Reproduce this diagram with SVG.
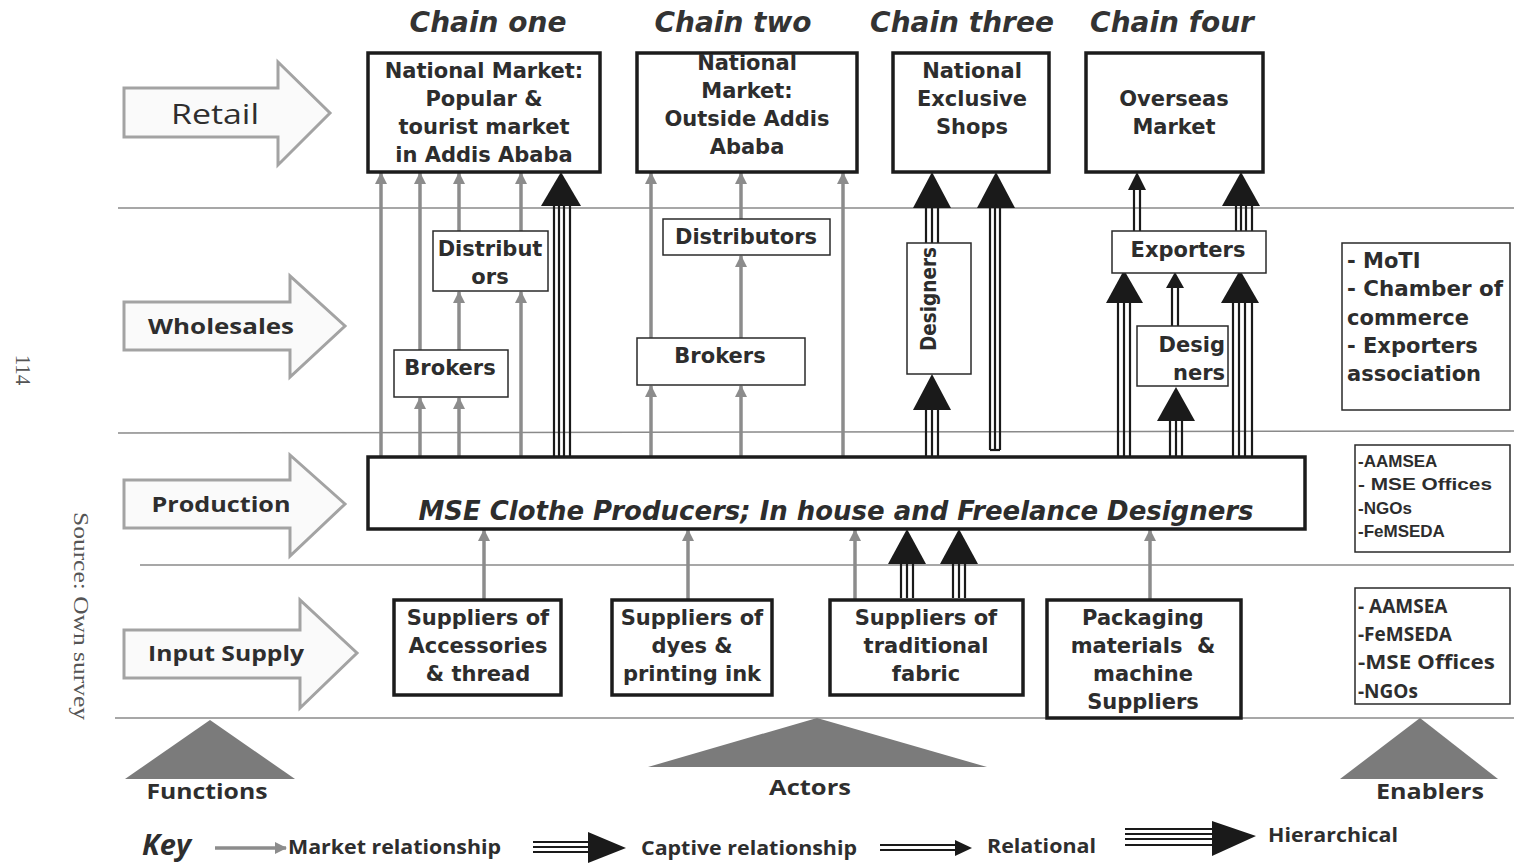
<svg xmlns="http://www.w3.org/2000/svg" width="1514" height="863" viewBox="0 0 1514 863">
<style>
.bg{fill:#ffffff}
.hl{stroke:#8a8a8a;stroke-width:1.5;fill:none}
.fa{fill:#fafafa;stroke:#a3a3a3;stroke-width:3}
.fl{font-family:"Open Sans","Liberation Sans",sans-serif;fill:#2e2e2e;text-anchor:middle;dominant-baseline:central}
.hd{font-family:"DejaVu Sans",sans-serif;font-weight:bold;font-style:italic;font-size:28px;fill:#333;text-anchor:middle;dominant-baseline:central}
.tb{fill:#fff;stroke:#1c1c1c;stroke-width:3.5}
.nb{fill:#fff;stroke:#2a2a2a;stroke-width:1.5}
.t{font-family:"DejaVu Sans",sans-serif;font-weight:bold;font-size:21px;fill:#2d2d2d;text-anchor:middle;dominant-baseline:central}
.tl{font-family:"DejaVu Sans",sans-serif;font-weight:bold;fill:#2d2d2d;dominant-baseline:central}
.ma{stroke:#8c8c8c;stroke-width:3.5;fill:none;marker-end:url(#gh)}
.cl{stroke:#1a1a1a;stroke-width:2.2;fill:none}
.ch{fill:#1a1a1a}
.tri{fill:#7b7b7b}
.src{font-family:"Liberation Serif",serif;font-size:21px;fill:#555}
.key{font-family:"Open Sans","Liberation Sans",sans-serif;font-weight:bold;fill:#2e2e2e;dominant-baseline:central}
</style>
<defs>
<marker id="gh" markerUnits="userSpaceOnUse" markerWidth="12" markerHeight="12" refX="11" refY="6" orient="auto">
<path d="M0,0 L12,6 L0,12 Z" fill="#8c8c8c"/>
</marker>
</defs>
<rect class="bg" x="0" y="0" width="1514" height="863"/>

<g id="page-notes">
<text class="src" transform="translate(16,370) rotate(90)" text-anchor="middle">114</text>
<text class="src" transform="translate(74,616) rotate(90)" text-anchor="middle" textLength="208" lengthAdjust="spacingAndGlyphs">Source: Own survey</text>
</g>

<g id="rows">
<line class="hl" x1="118" y1="208" x2="1514" y2="208"/>
<line class="hl" x1="118" y1="433" x2="1514" y2="431"/>
<line class="hl" x1="140" y1="565" x2="1514" y2="565"/>
<line class="hl" x1="115" y1="718" x2="1514" y2="718"/>
</g>

<g id="chain-headers">
<text class="hd" x="488" y="22">Chain one</text>
<text class="hd" x="733" y="22">Chain two</text>
<text class="hd" x="962" y="22">Chain three</text>
<text class="hd" x="1172" y="22">Chain four</text>
</g>

<g id="fn-retail">
<path class="fa" d="M124,88 H278 V62 L330,113 L278,165 V137 H124 Z"/>
<text class="fl" x="215" y="113" style="font-size:27px" textLength="88" lengthAdjust="spacingAndGlyphs">Retail</text>
</g>
<g id="fn-wholesales">
<path class="fa" d="M124,302 H290 V276 L345,326 L290,377 V350 H124 Z"/>
<text class="fl" x="221" y="326" style="font-size:21px;font-weight:bold" textLength="146" lengthAdjust="spacingAndGlyphs">Wholesales</text>
</g>
<g id="fn-production">
<path class="fa" d="M124,480 H290 V455 L345,504 L290,556 V528 H124 Z"/>
<text class="fl" x="221" y="504" style="font-size:21px;font-weight:bold" textLength="139" lengthAdjust="spacingAndGlyphs">Production</text>
</g>
<g id="fn-input">
<path class="fa" d="M124,630 H300 V600 L357,653 L300,708 V678 H124 Z"/>
<text class="fl" x="226" y="653" style="font-size:21px;font-weight:bold" textLength="156" lengthAdjust="spacingAndGlyphs">Input Supply</text>
</g>

<g id="connectors">
<line class="ma" x1="381" y1="457" x2="381" y2="173"/>
<line class="ma" x1="420" y1="457" x2="420" y2="398"/>
<line class="ma" x1="420" y1="350" x2="420" y2="173"/>
<line class="ma" x1="459" y1="457" x2="459" y2="398"/>
<line class="ma" x1="459" y1="350" x2="459" y2="292"/>
<line class="ma" x1="459" y1="231" x2="459" y2="173"/>
<line class="ma" x1="521" y1="457" x2="521" y2="292"/>
<line class="ma" x1="521" y1="231" x2="521" y2="173"/>
<line class="ma" x1="651" y1="457" x2="651" y2="386"/>
<line class="ma" x1="651" y1="338" x2="651" y2="173"/>
<line class="ma" x1="741" y1="457" x2="741" y2="386"/>
<line class="ma" x1="741" y1="338" x2="741" y2="256"/>
<line class="ma" x1="741" y1="219" x2="741" y2="173"/>
<line class="ma" x1="843" y1="457" x2="843" y2="173"/>
<line class="ma" x1="484" y1="600" x2="484" y2="530"/>
<line class="ma" x1="688" y1="600" x2="688" y2="530"/>
<line class="ma" x1="855" y1="600" x2="855" y2="530"/>
<line class="ma" x1="1150" y1="600" x2="1150" y2="530"/>

<g>
<line class="cl" x1="554" y1="457" x2="554" y2="200"/>
<line class="cl" x1="559" y1="457" x2="559" y2="200"/>
<line class="cl" x1="564" y1="457" x2="564" y2="200"/>
<line class="cl" x1="570" y1="457" x2="570" y2="200"/>
<polygon class="ch" points="561,172 541,206 581,206"/>
</g>
<g>
<line class="cl" x1="926" y1="457" x2="926" y2="400"/>
<line class="cl" x1="932" y1="457" x2="932" y2="400"/>
<line class="cl" x1="938" y1="457" x2="938" y2="400"/>
<polygon class="ch" points="932,374 913,410 951,410"/>
</g>
<g>
<line class="cl" x1="926" y1="243" x2="926" y2="200"/>
<line class="cl" x1="932" y1="243" x2="932" y2="200"/>
<line class="cl" x1="938" y1="243" x2="938" y2="200"/>
<polygon class="ch" points="932,172 913,208 951,208"/>
</g>
<g>
<line class="cl" x1="990" y1="450" x2="990" y2="200"/>
<line class="cl" x1="995" y1="450" x2="995" y2="200"/>
<line class="cl" x1="1000" y1="450" x2="1000" y2="200"/>
<line class="cl" x1="990" y1="450" x2="1000" y2="450"/>
<polygon class="ch" points="996,172 977,208 1015,208"/>
</g>
<g>
<line class="cl" x1="1134" y1="231" x2="1134" y2="185"/>
<line class="cl" x1="1140" y1="231" x2="1140" y2="185"/>
<polygon class="ch" points="1137,172 1128,190 1146,190"/>
</g>
<g>
<line class="cl" x1="1236" y1="231" x2="1236" y2="200"/>
<line class="cl" x1="1241" y1="231" x2="1241" y2="200"/>
<line class="cl" x1="1246" y1="231" x2="1246" y2="200"/>
<line class="cl" x1="1252" y1="231" x2="1252" y2="200"/>
<polygon class="ch" points="1241,172 1222,206 1260,206"/>
</g>
<g>
<line class="cl" x1="1118" y1="457" x2="1118" y2="298"/>
<line class="cl" x1="1124" y1="457" x2="1124" y2="298"/>
<line class="cl" x1="1130" y1="457" x2="1130" y2="298"/>
<polygon class="ch" points="1124,270 1106,303 1143,303"/>
</g>
<g>
<line class="cl" x1="1172" y1="326" x2="1172" y2="284"/>
<line class="cl" x1="1178" y1="326" x2="1178" y2="284"/>
<polygon class="ch" points="1175,272 1166,288 1184,288"/>
</g>
<g>
<line class="cl" x1="1170" y1="457" x2="1170" y2="415"/>
<line class="cl" x1="1176" y1="457" x2="1176" y2="415"/>
<line class="cl" x1="1182" y1="457" x2="1182" y2="415"/>
<polygon class="ch" points="1176,387 1157,421 1195,421"/>
</g>
<g>
<line class="cl" x1="1233" y1="457" x2="1233" y2="298"/>
<line class="cl" x1="1239" y1="457" x2="1239" y2="298"/>
<line class="cl" x1="1245" y1="457" x2="1245" y2="298"/>
<line class="cl" x1="1252" y1="457" x2="1252" y2="298"/>
<polygon class="ch" points="1240,270 1221,303 1259,303"/>
</g>
<g>
<line class="cl" x1="901" y1="598" x2="901" y2="555"/>
<line class="cl" x1="907" y1="598" x2="907" y2="555"/>
<line class="cl" x1="913" y1="598" x2="913" y2="555"/>
<polygon class="ch" points="907,529 888,564 926,564"/>
</g>
<g>
<line class="cl" x1="953" y1="598" x2="953" y2="555"/>
<line class="cl" x1="959" y1="598" x2="959" y2="555"/>
<line class="cl" x1="965" y1="598" x2="965" y2="555"/>
<polygon class="ch" points="959,529 940,564 978,564"/>
</g>
</g>

<g id="retail-popular">
<rect class="tb" x="368" y="53" width="232" height="119"/>
<text class="t" x="484" y="71">National Market:</text>
<text class="t" x="484" y="99">Popular &amp;</text>
<text class="t" x="484" y="127">tourist market</text>
<text class="t" x="484" y="155">in Addis Ababa</text>
</g>
<g id="retail-outside">
<rect class="tb" x="637" y="53" width="220" height="119"/>
<text class="t" x="747" y="63">National</text>
<text class="t" x="747" y="91">Market:</text>
<text class="t" x="747" y="119">Outside Addis</text>
<text class="t" x="747" y="147">Ababa</text>
</g>
<g id="retail-exclusive">
<rect class="tb" x="893" y="53" width="156" height="119"/>
<text class="t" x="972" y="71">National</text>
<text class="t" x="972" y="99">Exclusive</text>
<text class="t" x="972" y="127">Shops</text>
</g>
<g id="retail-overseas">
<rect class="tb" x="1086" y="53" width="177" height="119"/>
<text class="t" x="1174" y="99">Overseas</text>
<text class="t" x="1174" y="127">Market</text>
</g>

<g id="distributors-1">
<rect class="nb" x="433" y="231" width="115" height="60"/>
<text class="t" x="490" y="249">Distribut</text>
<text class="t" x="490" y="277">ors</text>
</g>
<g id="brokers-1">
<rect class="nb" x="394" y="350" width="114" height="47"/>
<text class="t" x="450" y="368">Brokers</text>
</g>
<g id="distributors-2">
<rect class="nb" x="663" y="219" width="167" height="36"/>
<text class="t" x="746" y="237">Distributors</text>
</g>
<g id="brokers-2">
<rect class="nb" x="637" y="338" width="168" height="47"/>
<text class="t" x="720" y="356">Brokers</text>
</g>
<g id="designers-3">
<rect class="nb" x="907" y="243" width="64" height="131"/>
<text class="t" transform="translate(929,299) rotate(-90)" x="0" y="0" textLength="104" lengthAdjust="spacingAndGlyphs">Designers</text>
</g>
<g id="exporters">
<rect class="nb" x="1112" y="231" width="154" height="42"/>
<text class="t" x="1188" y="250">Exporters</text>
</g>
<g id="designers-4">
<rect class="nb" x="1137" y="326" width="91" height="60"/>
<text class="t" x="1225" y="345" style="text-anchor:end">Desig</text>
<text class="t" x="1225" y="373" style="text-anchor:end">ners</text>
</g>

<g id="producers">
<rect class="tb" x="368" y="457" width="937" height="72"/>
<text class="t" x="836" y="511" style="font-size:26px;font-style:italic" textLength="835" lengthAdjust="spacingAndGlyphs">MSE Clothe Producers;  In house and Freelance Designers</text>
</g>

<g id="supply-accessories">
<rect class="tb" x="394" y="600" width="167" height="95"/>
<text class="t" x="478" y="618">Suppliers of</text>
<text class="t" x="478" y="646">Accessories</text>
<text class="t" x="478" y="674">&amp; thread</text>
</g>
<g id="supply-dyes">
<rect class="tb" x="612" y="600" width="160" height="95"/>
<text class="t" x="692" y="618">Suppliers of</text>
<text class="t" x="692" y="646">dyes &amp;</text>
<text class="t" x="692" y="674">printing ink</text>
</g>
<g id="supply-fabric">
<rect class="tb" x="830" y="600" width="193" height="95"/>
<text class="t" x="926" y="618">Suppliers of</text>
<text class="t" x="926" y="646">traditional</text>
<text class="t" x="926" y="674">fabric</text>
</g>
<g id="supply-packaging">
<rect class="tb" x="1047" y="600" width="194" height="118"/>
<text class="t" x="1143" y="618">Packaging</text>
<text class="t" x="1143" y="646" xml:space="preserve">materials  &amp;</text>
<text class="t" x="1143" y="674">machine</text>
<text class="t" x="1143" y="702">Suppliers</text>
</g>

<g id="enablers-retail">
<rect class="nb" x="1342" y="243" width="168" height="167"/>
<text class="tl" x="1347" y="261" style="font-size:21px">- MoTI</text>
<text class="tl" x="1347" y="289" style="font-size:21px" textLength="156" lengthAdjust="spacingAndGlyphs">- Chamber of</text>
<text class="tl" x="1347" y="318" style="font-size:21px">commerce</text>
<text class="tl" x="1347" y="346" style="font-size:21px">- Exporters</text>
<text class="tl" x="1347" y="374" style="font-size:21px">association</text>
</g>
<g id="enablers-production">
<rect class="nb" x="1355" y="445" width="155" height="107"/>
<text class="tl" x="1358" y="461" style="font-size:17px;font-family:'Liberation Sans',sans-serif">-AAMSEA</text>
<text class="tl" x="1358" y="484" style="font-size:17px;font-family:'Liberation Sans',sans-serif" textLength="134" lengthAdjust="spacingAndGlyphs">- MSE Offices</text>
<text class="tl" x="1358" y="508" style="font-size:17px;font-family:'Liberation Sans',sans-serif">-NGOs</text>
<text class="tl" x="1358" y="531" style="font-size:17px;font-family:'Liberation Sans',sans-serif">-FeMSEDA</text>
</g>
<g id="enablers-input">
<rect class="nb" x="1355" y="588" width="155" height="116"/>
<text class="key" x="1358" y="606" style="font-size:19px">- AAMSEA</text>
<text class="key" x="1358" y="634" style="font-size:19px">-FeMSEDA</text>
<text class="key" x="1358" y="662" style="font-size:19px" textLength="137" lengthAdjust="spacingAndGlyphs">-MSE Offices</text>
<text class="key" x="1358" y="691" style="font-size:19px">-NGOs</text>
</g>

<g id="functions">
<polygon class="tri" points="210,720 125,779 295,779"/>
<text class="key" x="207" y="790" style="font-size:22px;text-anchor:middle" textLength="121" lengthAdjust="spacingAndGlyphs">Functions</text>
</g>
<g id="actors">
<polygon class="tri" points="817,718 648,767 987,767"/>
<text class="key" x="810" y="786" style="font-size:22px;text-anchor:middle" textLength="82" lengthAdjust="spacingAndGlyphs">Actors</text>
</g>
<g id="enablers">
<polygon class="tri" points="1420,718 1340,779 1498,779"/>
<text class="key" x="1430" y="790" style="font-size:22px;text-anchor:middle" textLength="108" lengthAdjust="spacingAndGlyphs">Enablers</text>
</g>

<g id="key">
<text class="key" x="142" y="843" style="font-size:29px;font-style:italic">Key</text>
<line class="ma" x1="215" y1="848" x2="286" y2="848"/>
<text class="key" x="288" y="847" style="font-size:19px" textLength="213" lengthAdjust="spacingAndGlyphs">Market relationship</text>
<line class="cl" x1="533" y1="842" x2="592" y2="842"/>
<line class="cl" x1="533" y1="847" x2="592" y2="847"/>
<line class="cl" x1="533" y1="852" x2="592" y2="852"/>
<polygon class="ch" points="588,832 626,848 588,863"/>
<text class="key" x="641" y="848" style="font-size:19px" textLength="216" lengthAdjust="spacingAndGlyphs">Captive relationship</text>
<line class="cl" x1="880" y1="845" x2="960" y2="845"/>
<line class="cl" x1="880" y1="850" x2="960" y2="850"/>
<polygon class="ch" points="955,840 972,848 955,856"/>
<text class="key" x="987" y="846" style="font-size:19px" textLength="109" lengthAdjust="spacingAndGlyphs">Relational</text>
<line class="cl" x1="1125" y1="829" x2="1216" y2="829"/>
<line class="cl" x1="1125" y1="834" x2="1216" y2="834"/>
<line class="cl" x1="1125" y1="839" x2="1216" y2="839"/>
<line class="cl" x1="1125" y1="845" x2="1216" y2="845"/>
<polygon class="ch" points="1212,821 1256,836 1212,856"/>
<text class="key" x="1268" y="835" style="font-size:19px" textLength="130" lengthAdjust="spacingAndGlyphs">Hierarchical</text>
</g>
</svg>
